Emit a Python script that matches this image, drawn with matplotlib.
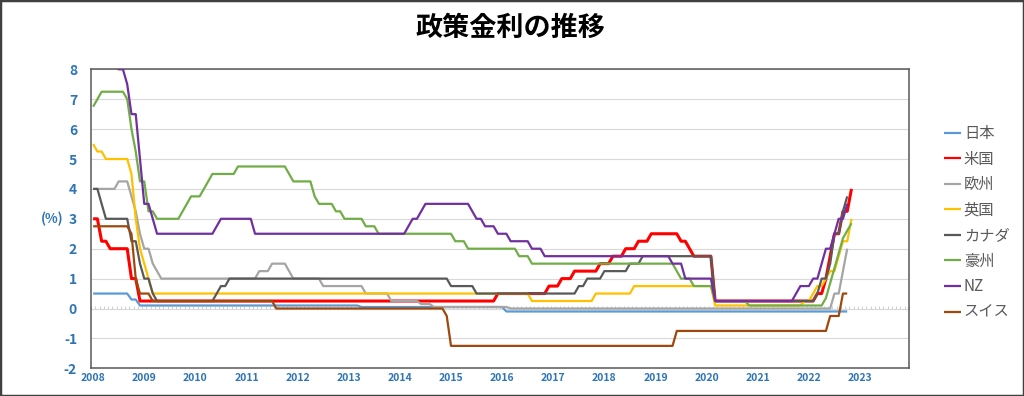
import numpy as np
import pandas as pd
import matplotlib
matplotlib.use("Agg")
import matplotlib.pyplot as plt
from matplotlib.patches import Rectangle
from matplotlib.ticker import FixedLocator, NullFormatter

plt.rcParams['font.family'] = ['Noto Sans CJK JP', 'DejaVu Sans']
plt.rcParams['axes.unicode_minus'] = False

# ---------------- data (policy rate change points, month-end, %) ----------------
title = "政策金利の推移"
years = list(range(2008, 2024))

jp_dates = ["2008-01", "2008-10", "2008-12", "2013-04", "2016-02"]
jp_rates = [0.5, 0.3, 0.1, 0.05, -0.1]
jp_end = "2022-10"

us_dates = ["2008-01", "2008-03", "2008-05", "2008-10", "2008-12", "2015-12", "2016-12",
            "2017-03", "2017-06", "2017-12", "2018-03", "2018-06", "2018-09", "2018-12",
            "2019-07", "2019-09", "2019-10", "2020-03", "2022-03", "2022-05", "2022-06",
            "2022-07", "2022-09", "2022-11"]
us_rates = [3.0, 2.25, 2.0, 1.0, 0.25, 0.5, 0.75,
            1.0, 1.25, 1.5, 1.75, 2.0, 2.25, 2.5,
            2.25, 2.0, 1.75, 0.25, 0.5, 1.0, 1.75,
            2.5, 3.25, 4.0]
us_end = "2022-11"

eu_dates = ["2008-01", "2008-07", "2008-10", "2008-11", "2008-12", "2009-01", "2009-03",
            "2009-04", "2009-05", "2011-04", "2011-07", "2011-11", "2011-12", "2012-07",
            "2013-05", "2013-11", "2014-06", "2014-09", "2016-03", "2022-07", "2022-09",
            "2022-10"]
eu_rates = [4.0, 4.25, 3.75, 3.25, 2.5, 2.0, 1.5,
            1.25, 1.0, 1.25, 1.5, 1.25, 1.0, 0.75,
            0.5, 0.25, 0.15, 0.05, 0.0, 0.5, 1.25,
            2.0]
eu_end = "2022-10"

uk_dates = ["2008-01", "2008-02", "2008-04", "2008-10", "2008-11", "2008-12", "2009-01",
            "2009-02", "2009-03", "2016-08", "2017-11", "2018-08", "2020-03", "2021-12",
            "2022-02", "2022-03", "2022-05", "2022-06", "2022-08", "2022-09", "2022-11"]
uk_rates = [5.5, 5.25, 5.0, 4.5, 3.0, 2.0, 1.5,
            1.0, 0.5, 0.25, 0.5, 0.75, 0.1, 0.25,
            0.5, 0.75, 1.0, 1.25, 1.75, 2.25, 3.0]
uk_end = "2022-11"

ca_dates = ["2008-01", "2008-03", "2008-04", "2008-10", "2008-12", "2009-01", "2009-03",
            "2009-04", "2010-06", "2010-07", "2010-09", "2015-01", "2015-07", "2017-07",
            "2017-09", "2018-01", "2018-07", "2018-10", "2020-03", "2022-03", "2022-04",
            "2022-06", "2022-07", "2022-09", "2022-10"]
ca_rates = [4.0, 3.5, 3.0, 2.25, 1.5, 1.0, 0.5,
            0.25, 0.5, 0.75, 1.0, 0.75, 0.5, 0.75,
            1.0, 1.25, 1.5, 1.75, 0.25, 0.5, 1.0,
            1.5, 2.5, 3.25, 3.75]
ca_end = "2022-10"

au_dates = ["2008-01", "2008-02", "2008-03", "2008-09", "2008-10", "2008-11", "2008-12",
            "2009-02", "2009-04", "2009-10", "2009-11", "2009-12", "2010-03", "2010-04",
            "2010-05", "2010-11", "2011-11", "2011-12", "2012-05", "2012-06", "2012-10",
            "2012-12", "2013-05", "2013-08", "2015-02", "2015-05", "2016-05", "2016-08",
            "2019-06", "2019-07", "2019-10", "2020-03", "2020-11", "2022-05", "2022-06",
            "2022-07", "2022-08", "2022-09", "2022-10", "2022-11"]
au_rates = [6.75, 7.0, 7.25, 7.0, 6.0, 5.25, 4.25,
            3.25, 3.0, 3.25, 3.5, 3.75, 4.0, 4.25,
            4.5, 4.75, 4.5, 4.25, 3.75, 3.5, 3.25,
            3.0, 2.75, 2.5, 2.25, 2.0, 1.75, 1.5,
            1.25, 1.0, 0.75, 0.25, 0.1, 0.35, 0.85,
            1.35, 1.85, 2.35, 2.6, 2.85]
au_end = "2022-11"

nz_dates = ["2008-01", "2008-07", "2008-09", "2008-10", "2008-12", "2009-01", "2009-03",
            "2009-04", "2010-06", "2010-07", "2011-03", "2014-03", "2014-04", "2014-06",
            "2014-07", "2015-06", "2015-07", "2015-09", "2015-12", "2016-03", "2016-08",
            "2016-11", "2019-05", "2019-08", "2020-03", "2021-10", "2021-11", "2022-02",
            "2022-04", "2022-05", "2022-07", "2022-08", "2022-10"]
nz_rates = [8.25, 8.0, 7.5, 6.5, 5.0, 3.5, 3.0,
            2.5, 2.75, 3.0, 2.5, 2.75, 3.0, 3.25,
            3.5, 3.25, 3.0, 2.75, 2.5, 2.25, 2.0,
            1.75, 1.5, 1.0, 0.25, 0.5, 0.75, 1.0,
            1.5, 2.0, 2.5, 3.0, 3.5]
nz_end = "2022-10"

ch_dates = ["2008-01", "2008-10", "2008-11", "2008-12", "2009-03", "2011-08", "2014-12",
            "2015-01", "2019-06", "2022-06", "2022-09"]
ch_rates = [2.75, 2.5, 1.0, 0.5, 0.25, 0.0, -0.25,
            -1.25, -0.75, -0.25, 0.5]
ch_end = "2022-10"

series = [
    ("日本", jp_dates, jp_rates, jp_end, "#5B9BD5", 1.6),
    ("米国", us_dates, us_rates, us_end, "#FF0000", 2.2),
    ("欧州", eu_dates, eu_rates, eu_end, "#A5A5A5", 1.6),
    ("英国", uk_dates, uk_rates, uk_end, "#FFC000", 1.6),
    ("カナダ", ca_dates, ca_rates, ca_end, "#595959", 1.6),
    ("豪州", au_dates, au_rates, au_end, "#70AD47", 1.6),
    ("NZ", nz_dates, nz_rates, nz_end, "#7030A0", 1.6),
    ("スイス", ch_dates, ch_rates, ch_end, "#9E480E", 1.6),
]

# ---------------- figure ----------------
W, H = 1024, 396
fig = plt.figure(figsize=(W / 100, H / 100), dpi=100)
L, R, T, B = 91, 909, 69.3, 368.3
ax = fig.add_axes([L / W, 1 - B / H, (R - L) / W, (B - T) / H])

start = pd.Period("2008-01", freq="M")
for name, dates, rates, end, color, lw in series:
    idx = pd.period_range(start, pd.Period(end, freq="M"), freq="M")
    s = pd.Series(rates, index=pd.PeriodIndex(dates, freq="M")).reindex(idx).ffill()
    x = np.array([(p - start).n for p in idx]) + 0.5
    ax.plot(x, s.values, color=color, lw=lw, label=name,
            solid_joinstyle="round", solid_capstyle="butt", zorder=3)

ax.set_xlim(0, 192)
ax.set_ylim(-2, 8)

blue = "#2E75B6"
yt = list(range(-2, 9))
ax.set_yticks(yt)
ax.set_yticklabels([str(v) for v in yt], color=blue, fontsize=10, fontweight="bold")
ax.set_xticks([12 * k + 0.5 for k in range(len(years))])
ax.set_xticklabels([str(y) for y in years], color=blue, fontsize=7.5, fontweight="bold")
ax.tick_params(axis="y", length=0, pad=10)
ax.tick_params(axis="x", length=0, pad=3.5)

ax.yaxis.grid(True, color="#D9D9D9", lw=0.8)
ax.set_axisbelow(True)
for sp in ax.spines.values():
    sp.set_color("#595959")
    sp.set_linewidth(1.1)

# zero axis line with monthly minor tick marks
sec = ax.secondary_xaxis(0.2)
sec.spines["bottom"].set_color("#D9D9D9")
sec.spines["bottom"].set_linewidth(0.8)
sec.set_xticks([])
sec.xaxis.set_minor_locator(FixedLocator(np.arange(0, 193, 1)))
sec.xaxis.set_minor_formatter(NullFormatter())
sec.tick_params(which="minor", direction="in", length=2.5, width=0.6, color="#C8C8C8")

fig.text(510 / W, 1 - 28 / H, title, ha="center", va="center",
         fontsize=19.5, fontweight="bold", color="black")
fig.text(52.5 / W, 1 - 218.6 / H, "(%)", ha="center", va="center",
         fontsize=9.5, fontweight="bold", color=blue)

handles, labels = ax.get_legend_handles_labels()
leg = fig.legend(handles, labels, loc="upper left",
                 bbox_to_anchor=(944 / W, 1 - 125 / H), frameon=False,
                 fontsize=11, handlelength=1.1, handletextpad=0.2,
                 labelspacing=0.56, borderpad=0, borderaxespad=0,
                 labelcolor="#595959")
for ln in leg.get_lines():
    ln.set_linewidth(1.6)

fig.patches.append(Rectangle((0, 0), 1, 1, transform=fig.transFigure, fill=False,
                             edgecolor="#404040", lw=2.5, zorder=10))

fig.savefig("out.png", dpi=100)
